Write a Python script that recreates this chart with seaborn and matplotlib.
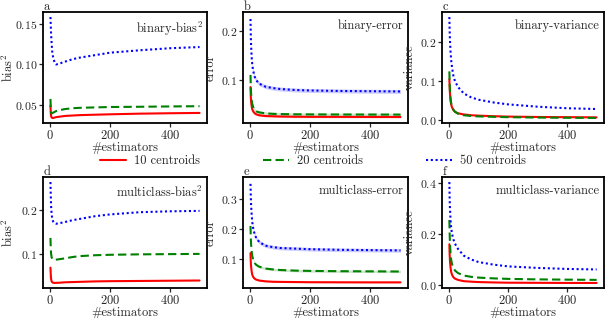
import numpy as np
import pandas as pd
import seaborn as sns
import matplotlib
matplotlib.use("Agg")
import matplotlib.pyplot as plt
from matplotlib.ticker import MultipleLocator

# ---------------- data ----------------
n_est = [1, 2, 3, 5, 7, 10, 15, 20, 30, 50, 75, 100, 150, 200, 300, 400, 500]
series_names = ["10 centroids", "20 centroids", "50 centroids"]

bin_bias_10 = [0.049, 0.040, 0.036, 0.034, 0.0335, 0.0335, 0.034, 0.0345, 0.035, 0.036, 0.0365, 0.037, 0.0375, 0.038, 0.0388, 0.0393, 0.0397]
bin_bias_20 = [0.057, 0.046, 0.040, 0.039, 0.0395, 0.040, 0.041, 0.042, 0.043, 0.0445, 0.0455, 0.046, 0.0465, 0.047, 0.0473, 0.0477, 0.048]
bin_bias_50 = [0.158, 0.148, 0.138, 0.125, 0.115, 0.108, 0.102, 0.0995, 0.1005, 0.103, 0.106, 0.108, 0.111, 0.114, 0.117, 0.1195, 0.121]

bin_err_10 = [0.085, 0.065, 0.055, 0.045, 0.039, 0.035, 0.031, 0.029, 0.027, 0.0255, 0.025, 0.0245, 0.024, 0.0238, 0.0237, 0.0236, 0.0235]
bin_err_20 = [0.110, 0.085, 0.072, 0.058, 0.050, 0.044, 0.038, 0.035, 0.033, 0.031, 0.030, 0.0295, 0.029, 0.0288, 0.0286, 0.0285, 0.0284]
bin_err_50 = [0.225, 0.190, 0.170, 0.145, 0.130, 0.118, 0.106, 0.099, 0.092, 0.086, 0.083, 0.081, 0.079, 0.078, 0.077, 0.0765, 0.076]

bin_var_10 = [0.105, 0.085, 0.068, 0.050, 0.040, 0.032, 0.025, 0.021, 0.017, 0.014, 0.012, 0.011, 0.0095, 0.0085, 0.0075, 0.007, 0.0065]
bin_var_20 = [0.125, 0.095, 0.075, 0.055, 0.044, 0.035, 0.026, 0.021, 0.016, 0.012, 0.010, 0.009, 0.008, 0.007, 0.006, 0.0055, 0.005]
bin_var_50 = [0.265, 0.230, 0.205, 0.175, 0.155, 0.135, 0.112, 0.100, 0.085, 0.068, 0.058, 0.052, 0.045, 0.040, 0.034, 0.030, 0.028]

mc_bias_10 = [0.070, 0.055, 0.045, 0.039, 0.037, 0.036, 0.0355, 0.0358, 0.036, 0.037, 0.0375, 0.038, 0.039, 0.0395, 0.040, 0.0405, 0.041]
mc_bias_20 = [0.137, 0.115, 0.102, 0.093, 0.090, 0.088, 0.0875, 0.088, 0.089, 0.091, 0.094, 0.096, 0.098, 0.099, 0.100, 0.1005, 0.101]
mc_bias_50 = [0.263, 0.235, 0.210, 0.190, 0.180, 0.174, 0.170, 0.169, 0.170, 0.173, 0.177, 0.180, 0.186, 0.190, 0.195, 0.197, 0.198]

mc_err_10 = [0.120, 0.090, 0.075, 0.058, 0.048, 0.041, 0.035, 0.032, 0.029, 0.0265, 0.025, 0.0245, 0.024, 0.0235, 0.0232, 0.023, 0.023]
mc_err_20 = [0.210, 0.170, 0.148, 0.125, 0.110, 0.098, 0.087, 0.081, 0.075, 0.069, 0.066, 0.064, 0.062, 0.061, 0.060, 0.0595, 0.059]
mc_err_50 = [0.350, 0.310, 0.280, 0.245, 0.222, 0.202, 0.182, 0.170, 0.157, 0.145, 0.140, 0.137, 0.135, 0.133, 0.131, 0.130, 0.129]

mc_var_10 = [0.160, 0.120, 0.095, 0.068, 0.052, 0.040, 0.030, 0.025, 0.020, 0.015, 0.013, 0.0115, 0.010, 0.009, 0.0085, 0.008, 0.008]
mc_var_20 = [0.255, 0.200, 0.165, 0.125, 0.100, 0.082, 0.066, 0.057, 0.047, 0.037, 0.032, 0.029, 0.026, 0.024, 0.022, 0.021, 0.020]
mc_var_50 = [0.404, 0.340, 0.300, 0.255, 0.225, 0.200, 0.178, 0.162, 0.142, 0.115, 0.100, 0.090, 0.080, 0.073, 0.067, 0.063, 0.061]

# half-widths of the shaded bands (error panels only)
bin_err_band = [0.002, 0.003, 0.004]
mc_err_band = [0.002, 0.004, 0.006]

# y tick steps
ytick_steps = [0.05, 0.1, 0.1, 0.1, 0.1, 0.2]

panels = [
    ("a", "binary-bias$^2$", "bias$^2$", [bin_bias_10, bin_bias_20, bin_bias_50], None),
    ("b", "binary-error", "error", [bin_err_10, bin_err_20, bin_err_50], bin_err_band),
    ("c", "binary-variance", "variance", [bin_var_10, bin_var_20, bin_var_50], None),
    ("d", "multiclass-bias$^2$", "bias$^2$", [mc_bias_10, mc_bias_20, mc_bias_50], None),
    ("e", "multiclass-error", "error", [mc_err_10, mc_err_20, mc_err_50], mc_err_band),
    ("f", "multiclass-variance", "variance", [mc_var_10, mc_var_20, mc_var_50], None),
]

# ---------------- style ----------------
FS = 9
sns.set_theme(style="ticks")
plt.rcParams.update({
    "font.family": ["cmr10", "DejaVu Serif"],
    "mathtext.fontset": "cm",
    "axes.formatter.use_mathtext": True,
    "font.size": FS,
    "axes.labelsize": FS,
    "xtick.labelsize": FS,
    "ytick.labelsize": 8.5,
    "axes.edgecolor": "black",
    "axes.linewidth": 1.3,
    "xtick.major.size": 3,
    "ytick.major.size": 3,
    "xtick.major.width": 0.9,
    "ytick.major.width": 0.9,
    "xtick.major.pad": 1.0,
    "ytick.major.pad": 1.0,
    "axes.labelpad": 0.3,
})

palette = {"10 centroids": "#ff0000", "20 centroids": "#008000", "50 centroids": "#0000ff"}
dashes = {"10 centroids": "", "20 centroids": (4, 2), "50 centroids": (1, 1.3)}

W, H = 606, 318
fig = plt.figure(figsize=(W / 100, H / 100), dpi=100)

col_x = [(43, 207), (243, 408), (442, 604)]
row_y = [(12, 123), (177, 288)]
ylabel_x = [-0.163, -0.16, -0.16]

first_handles = None
for i, (letter, title, ylabel, vals, band) in enumerate(panels):
    r, c = divmod(i, 3)
    x0, x1 = col_x[c]
    y0, y1 = row_y[r]
    ax = fig.add_axes([x0 / W, 1 - y1 / H, (x1 - x0) / W, (y1 - y0) / H])
    rows = []
    for name, v in zip(series_names, vals):
        for xx, yy in zip(n_est, v):
            rows.append({"n": xx, "value": yy, "centroids": name})
    df = pd.DataFrame(rows)
    if band is not None:
        for name, v, h in zip(series_names, vals, band):
            v = np.asarray(v)
            ax.fill_between(n_est, v - h, v + h, color=palette[name], alpha=0.2, lw=0)
    sns.lineplot(data=df, x="n", y="value", hue="centroids", style="centroids",
                 palette=palette, dashes=dashes, lw=1.5, ax=ax, legend=True)
    handles, labels = ax.get_legend_handles_labels()
    if first_handles is None:
        first_handles = (handles, labels)
    ax.get_legend().remove()
    ax.set_xlabel("#estimators")
    ax.set_ylabel(ylabel)
    ax.yaxis.set_label_coords(ylabel_x[c], 0.5)
    ax.set_xticks([0, 200, 400])
    ax.yaxis.set_major_locator(MultipleLocator(ytick_steps[i]))
    ax.text(0.975, 0.93, title, transform=ax.transAxes, ha="right", va="top", fontsize=FS)
    ax.text(0.005, 1.015, letter, transform=ax.transAxes, ha="left", va="baseline", fontsize=FS)
    for s in ax.spines.values():
        s.set_visible(True)

handles, labels = first_handles
fig.legend(handles, labels, loc="center", bbox_to_anchor=(313 / W, 1 - 161 / H), ncol=3,
           frameon=False, handlelength=2.1, columnspacing=5.0, handletextpad=0.65, fontsize=FS,
           borderaxespad=0, borderpad=0)

fig.savefig("out.png", dpi=100)
